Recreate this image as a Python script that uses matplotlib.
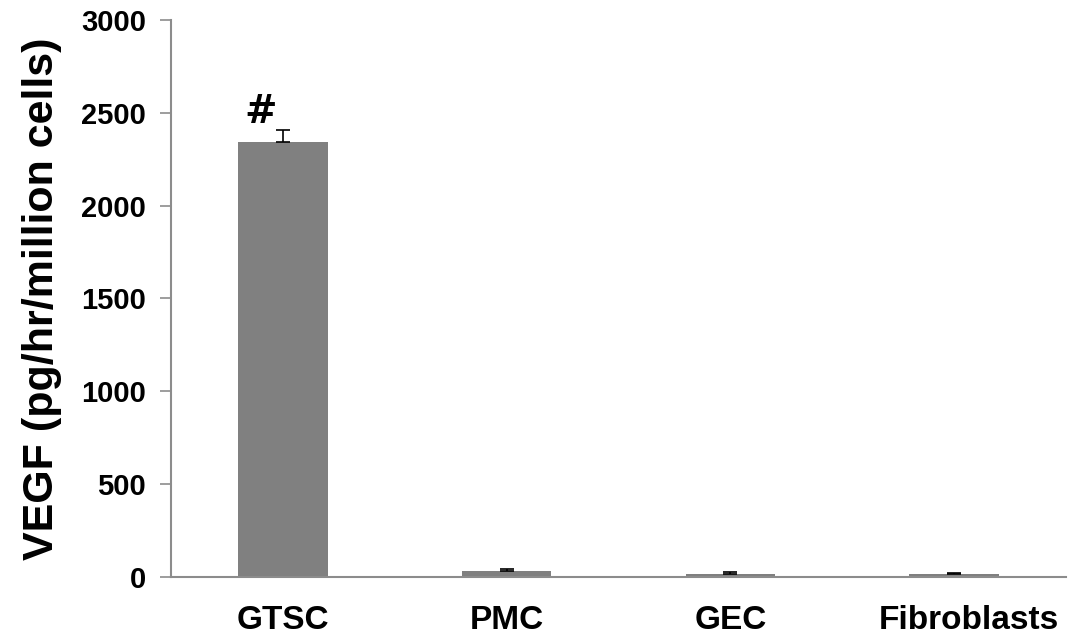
import matplotlib.pyplot as plt
import matplotlib.transforms as mtransforms

plt.rcParams['font.family'] = ['Liberation Sans', 'DejaVu Sans']
plt.rcParams['font.weight'] = 'bold'

# VEGF secretion by cell type
cell_types = ['GTSC', 'PMC', 'GEC', 'Fibroblasts']
vegf = [2343, 34, 16, 16]
err_low = [0, 0, 0, 0]
err_high = [65, 10, 10, 5]

fig = plt.figure(figsize=(10.79, 6.37), dpi=100)
ax = fig.add_axes([0.1585, 0.0942, 0.8295, 0.8744])

x = range(len(cell_types))
ax.bar(x, vegf, width=0.4, color='#808080', zorder=2)
ax.errorbar(x, vegf, yerr=[err_low, err_high], fmt='none', ecolor='black',
            elinewidth=1.2, capsize=5, capthick=1.2, zorder=3)

# significance mark over GTSC
ax.text(-0.1, vegf[0] + err_high[0] - 5, '#', ha='center', va='bottom',
        fontsize=28, fontweight='bold', family='DejaVu Sans')

ax.set_xlim(-0.5, 3.5)
ax.set_ylim(0, 3000)
ax.set_yticks([0, 500, 1000, 1500, 2000, 2500, 3000])
ax.set_xticks(list(x))
ax.set_xticklabels(cell_types)
ax.set_ylabel('VEGF (pg/hr/million cells)', fontsize=31, fontweight='bold', labelpad=14)

for s in ['top', 'right']:
    ax.spines[s].set_visible(False)
for s in ['left', 'bottom']:
    ax.spines[s].set_color('#8c8c8c')
    ax.spines[s].set_linewidth(1.5)

ax.tick_params(axis='y', length=8, width=1.2, color='#8c8c8c', labelsize=21, pad=10)
ax.tick_params(axis='x', length=0, labelsize=24, pad=20)

# last label sits a bit to the right in the original
lbl = ax.get_xticklabels()[-1]
lbl.set_transform(lbl.get_transform() + mtransforms.ScaledTranslation(0.15, 0, fig.dpi_scale_trans))

fig.savefig('out.png', dpi=100)
